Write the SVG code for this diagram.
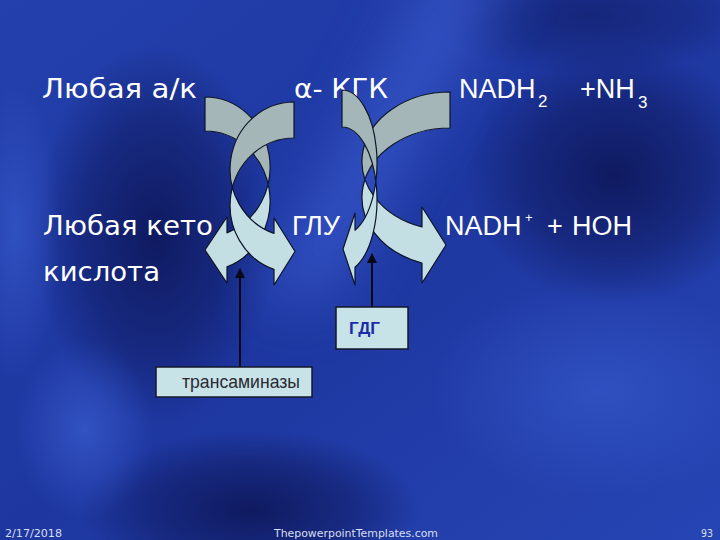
<svg xmlns="http://www.w3.org/2000/svg" width="720" height="540" viewBox="0 0 720 540">
<style>
.t{font-family:"DejaVu Sans","Liberation Sans",sans-serif;font-size:27px;fill:#ffffff}
.n{font-family:"Liberation Sans","DejaVu Sans",sans-serif;font-size:27px;fill:#ffffff}
.sub{font-family:"Liberation Sans","DejaVu Sans",sans-serif;font-size:17px;fill:#ffffff}
.sup{font-family:"Liberation Sans","DejaVu Sans",sans-serif;font-size:13px;fill:#ffffff}
.ft{font-family:"DejaVu Sans","Liberation Sans",sans-serif;font-size:11px;fill:#d8def0}
.light{fill:#c4dfe4;stroke:none}
.dark{fill:#a5b6b8;stroke:none}
.edge{fill:none;stroke:#0d1528;stroke-width:1.2;stroke-linejoin:round}
.box{fill:#c8e3e8;stroke:#14182a;stroke-width:1.5}
.conn{stroke:#080818;stroke-width:2;fill:none}
</style>
<defs>
<filter id="blur" x="-100%" y="-100%" width="300%" height="300%"><feGaussianBlur stdDeviation="30"/></filter>
<radialGradient id="dk"><stop offset="0" stop-color="#0e185c" stop-opacity="0.95"/><stop offset="0.6" stop-color="#0e185c" stop-opacity="0.5"/><stop offset="1" stop-color="#0e185c" stop-opacity="0"/></radialGradient>
<radialGradient id="lt"><stop offset="0" stop-color="#3e62d6" stop-opacity="0.9"/><stop offset="1" stop-color="#3e62d6" stop-opacity="0"/></radialGradient>
<linearGradient id="base" x1="0" y1="0" x2="1" y2="1"><stop offset="0" stop-color="#2340ac"/><stop offset="0.5" stop-color="#1e37a0"/><stop offset="1" stop-color="#2645b4"/></linearGradient>
<marker id="ah" viewBox="0 0 10 10" refX="9" refY="5" markerWidth="5" markerHeight="5" orient="auto"><path d="M0,0 L10,5 L0,10 Z" fill="#080818"/></marker>
</defs>
<g id="background">
<rect width="720" height="540" fill="url(#base)"/>
<ellipse cx="155" cy="235" rx="120" ry="190" fill="url(#dk)"/>
<ellipse cx="615" cy="175" rx="150" ry="130" fill="url(#dk)"/>
<ellipse cx="250" cy="510" rx="170" ry="80" fill="url(#dk)"/>
<ellipse cx="590" cy="15" rx="160" ry="60" fill="url(#dk)" opacity="0.6"/>
<polygon points="440,-40 515,-40 330,300 260,300" fill="#3a5cd0" opacity="0.75" filter="url(#blur)"/>
<ellipse cx="85" cy="430" rx="70" ry="90" fill="url(#lt)" opacity="0.7"/>
<ellipse cx="600" cy="390" rx="170" ry="110" fill="url(#lt)" opacity="0.55"/>
<ellipse cx="15" cy="230" rx="45" ry="150" fill="url(#lt)" opacity="0.6"/>
</g>
<g id="labels">
<text class="t" x="42" y="97.5" textLength="155" lengthAdjust="spacingAndGlyphs">Любая а/к</text>
<text class="t" x="294" y="97.5" textLength="94" lengthAdjust="spacingAndGlyphs">α- КГК</text>
<text class="n" x="459" y="97.5">NADH</text>
<text class="sub" x="538" y="107">2</text>
<text class="n" x="580" y="97.5">+NH</text>
<text class="sub" x="638" y="108">3</text>
<text class="t" x="43" y="235" textLength="170" lengthAdjust="spacingAndGlyphs">Любая кето</text>
<text class="t" x="43" y="281" textLength="117" lengthAdjust="spacingAndGlyphs">кислота</text>
<text class="n" x="292" y="235">ГЛУ</text>
<text class="n" x="445" y="235">NADH</text>
<text class="sup" x="525" y="222">+</text>
<text class="n" x="547" y="235">+</text>
<text class="n" x="572" y="235">НОН</text>
</g>
<g id="pair-left">
<g id="arrow-left-b">
<path class="light" d="M205,97 A65 70 0 0 1 227,232.9 L227,217 L205,250 L227,283 L227,266.9 A65 70 0 0 0 205,131 Z"/>
<path class="dark" d="M205,97 A65 70 0 0 1 268.1,184 A65 70 0 0 0 205,131 Z"/>
<path class="edge" d="M205,97 A65 70 0 0 1 227,232.9 L227,217 L205,250 L227,283 L227,266.9 A65 70 0 0 0 205,131 Z"/>
</g>
<g id="arrow-left-a">
<path class="light" d="M294,102 A64 67.4 0 0 0 274,233.4 L274,218 L295,251.5 L274,285 L274,269.4 A64 67.4 0 0 1 294,138 Z"/>
<path class="dark" d="M294,102 A64 67.4 0 0 0 232.3,187.4 A64 67.4 0 0 1 294,138 Z"/>
<path class="edge" d="M294,102 A64 67.4 0 0 0 274,233.4 L274,218 L295,251.5 L274,285 L274,269.4 A64 67.4 0 0 1 294,138 Z"/>
</g>
</g>
<g id="pair-right">
<g id="arrow-right-a">
<path class="light" d="M450,92 A88 69.3 0 0 0 422,227 L422,207 L446,245 L422,283 L422,263 A88 69.3 0 0 1 450,128 Z"/>
<path class="dark" d="M450,92 A88 69.3 0 0 0 365,179.3 A88 69.3 0 0 1 450,128 Z"/>
<path class="edge" d="M450,92 A88 69.3 0 0 0 422,227 L422,207 L446,245 L422,283 L422,263 A88 69.3 0 0 1 450,128 Z"/>
</g>
<g id="arrow-right-b">
<path class="light" d="M342,90 A35 72.7 0 0 1 355,230.2 L355,213 L343,249 L355,285 L355,267.2 A35 72.7 0 0 0 342,127 Z"/>
<path class="dark" d="M342,90 A35 72.7 0 0 1 375.8,181.2 A35 72.7 0 0 0 342,127 Z"/>
<path class="edge" d="M342,90 A35 72.7 0 0 1 355,230.2 L355,213 L343,249 L355,285 L355,267.2 A35 72.7 0 0 0 342,127 Z"/>
</g>
</g>
<g id="connectors">
<line class="conn" x1="240" y1="367" x2="240" y2="269" marker-end="url(#ah)"/>
<line class="conn" x1="372" y1="307" x2="372" y2="254" marker-end="url(#ah)"/>
</g>
<g id="node-gdg">
<rect class="box" x="336" y="307" width="72" height="42"/>
<text x="349" y="334" font-family="Liberation Sans, Arial, sans-serif" font-size="17" font-weight="bold" fill="#1c2ca8">ГДГ</text>
</g>
<g id="node-trans">
<rect class="box" x="156" y="367" width="156" height="30"/>
<text x="182" y="388" font-family="Liberation Sans, Arial, sans-serif" font-size="19" fill="#2a2a30" textLength="118" lengthAdjust="spacingAndGlyphs">трансаминазы</text>
</g>
<g id="footer">
<text class="ft" x="5" y="537" textLength="57" lengthAdjust="spacingAndGlyphs">2/17/2018</text>
<text class="ft" x="274" y="537" textLength="164" lengthAdjust="spacingAndGlyphs">ThepowerpointTemplates.com</text>
<text class="ft" x="701" y="537" textLength="12" lengthAdjust="spacingAndGlyphs">93</text>
</g>
</svg>
